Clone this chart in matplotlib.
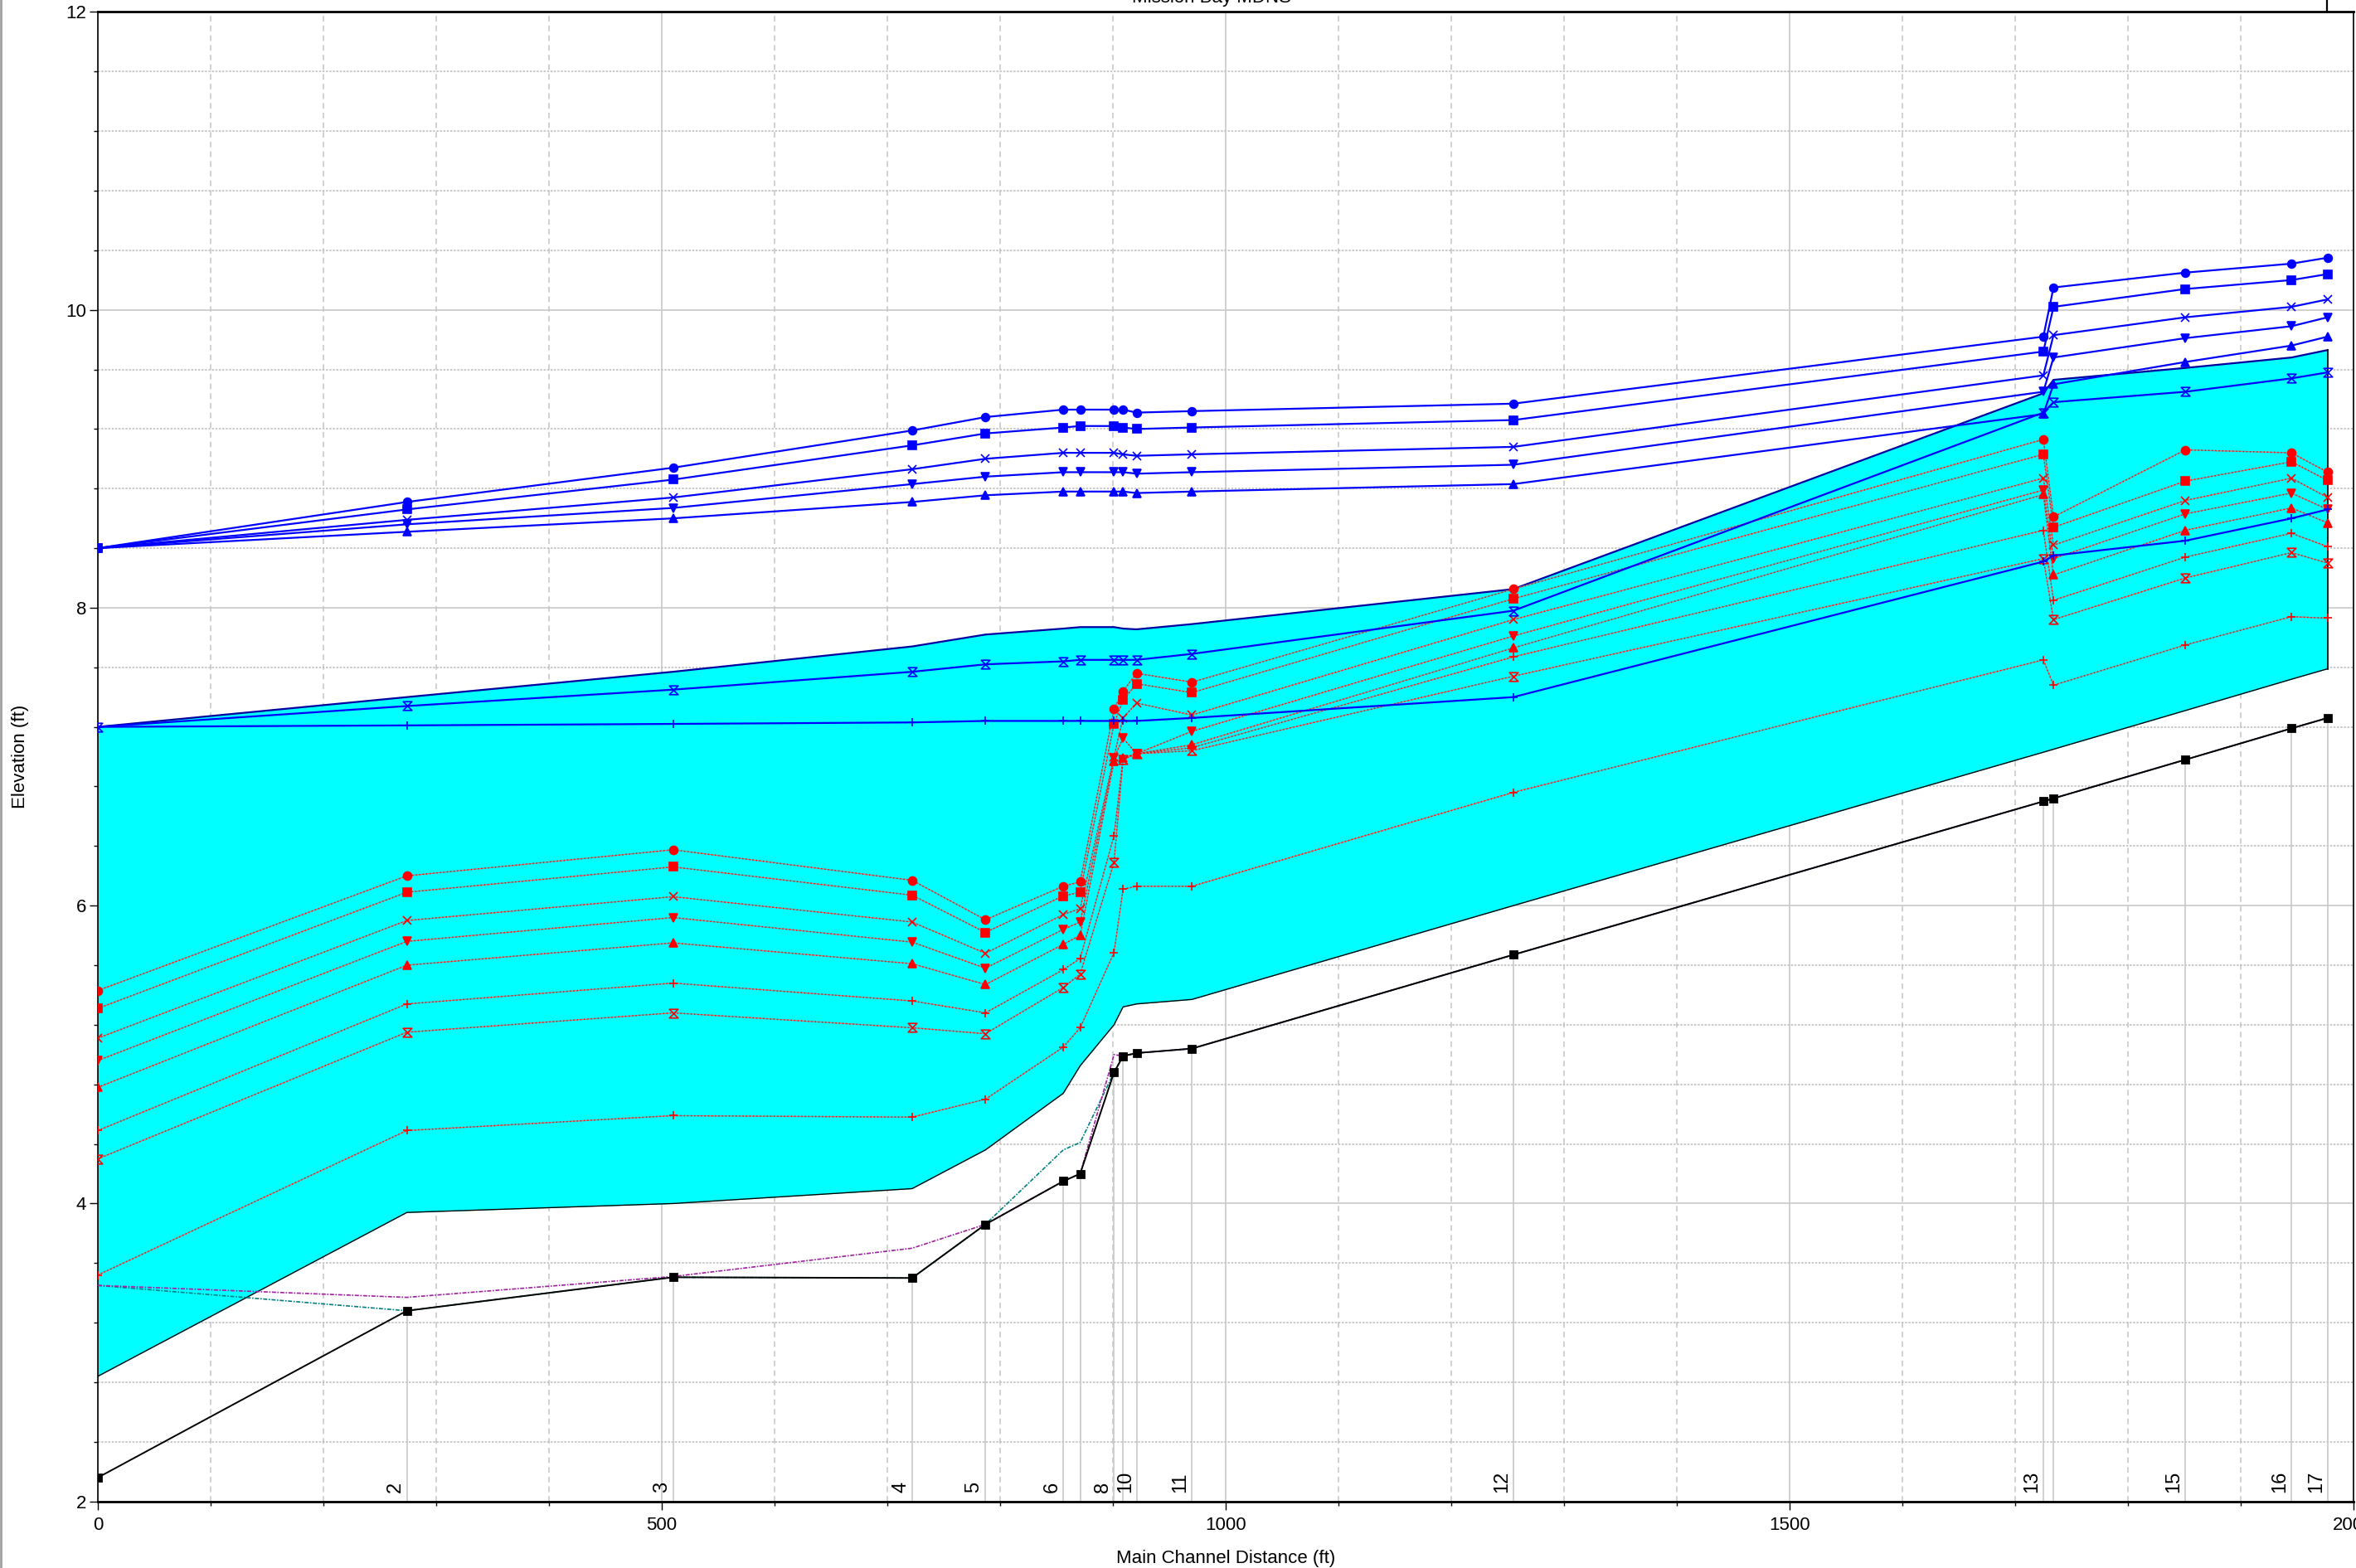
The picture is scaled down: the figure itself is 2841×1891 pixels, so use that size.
import matplotlib
matplotlib.use('Agg')
import matplotlib.pyplot as plt
from matplotlib.path import Path
from matplotlib.lines import Line2D
from matplotlib.ticker import MultipleLocator

plt.rcParams['font.family'] = ['Liberation Sans', 'DejaVu Sans']

# river stations (main channel distance, ft)
dist = [0, 274, 510, 722, 787, 856, 871, 901, 909, 921, 970, 1255, 1725, 1734, 1851, 1945, 1977]
stn_labels = ['', '2', '3', '4', '5', '6', '', '8', '', '10', '11', '12', '13', '', '15', '16', '17']

# ground / min channel elevation
ground = [2.16, 3.28, 3.505, 3.50, 3.86, 4.15, 4.20, 4.88, 4.99, 5.01, 5.04, 5.67, 6.70, 6.72, 6.98, 7.19, 7.26]
crit_purple = [3.45, 3.37, 3.51, 3.70, 3.86, 4.15, 4.20, 5.00, 4.99, 5.01, 5.04, 5.67, 6.70, 6.72, 6.98, 7.19, 7.26]
crit_teal = [3.45, 3.28, 3.505, 3.50, 3.86, 4.36, 4.41, 4.88, 4.99, 5.01, 5.04, 5.67, 6.70, 6.72, 6.98, 7.19, 7.26]

# cyan band
band_top = [7.20, 7.40, 7.57, 7.74, 7.82, 7.86, 7.87, 7.87, 7.86, 7.855, 7.89, 8.125, 9.44, 9.53, 9.61, 9.68, 9.73]
band_bot = [2.84, 3.94, 4.00, 4.10, 4.36, 4.74, 4.925, 5.20, 5.32, 5.34, 5.37, 6.00, 7.03, 7.05, 7.31, 7.52, 7.59]

# blue water surface profiles
blue_circle = [8.40, 8.71, 8.94, 9.19, 9.28, 9.33, 9.33, 9.33, 9.33, 9.31, 9.32, 9.37, 9.82, 10.15, 10.25, 10.31, 10.35]
blue_square = [8.40, 8.66, 8.86, 9.09, 9.17, 9.21, 9.22, 9.22, 9.21, 9.20, 9.21, 9.26, 9.72, 10.02, 10.14, 10.20, 10.24]
blue_x = [8.40, 8.59, 8.74, 8.93, 9.00, 9.04, 9.04, 9.04, 9.03, 9.02, 9.03, 9.08, 9.56, 9.83, 9.95, 10.02, 10.07]
blue_tdown = [8.40, 8.56, 8.67, 8.83, 8.88, 8.91, 8.91, 8.91, 8.91, 8.90, 8.91, 8.96, 9.45, 9.68, 9.81, 9.89, 9.95]
blue_tup = [8.40, 8.51, 8.60, 8.71, 8.755, 8.78, 8.78, 8.78, 8.78, 8.77, 8.78, 8.83, 9.30, 9.50, 9.65, 9.76, 9.82]
blue_hour = [7.20, 7.34, 7.45, 7.57, 7.62, 7.64, 7.65, 7.65, 7.65, 7.65, 7.69, 7.98, 9.31, 9.38, 9.45, 9.54, 9.58]
blue_plus = [7.20, 7.21, 7.22, 7.23, 7.24, 7.24, 7.24, 7.24, 7.24, 7.24, 7.26, 7.40, 8.31, 8.35, 8.45, 8.60, 8.66]

# red water surface profiles
red_circle = [5.43, 6.20, 6.375, 6.17, 5.905, 6.13, 6.16, 7.32, 7.44, 7.56, 7.50, 8.125, 9.13, 8.61, 9.06, 9.04, 8.91]
red_square = [5.31, 6.09, 6.26, 6.07, 5.82, 6.065, 6.09, 7.22, 7.38, 7.49, 7.43, 8.06, 9.03, 8.54, 8.85, 8.98, 8.855]
red_x = [5.11, 5.90, 6.06, 5.89, 5.68, 5.94, 5.98, 7.00, 7.26, 7.36, 7.28, 7.92, 8.87, 8.42, 8.72, 8.87, 8.74]
red_tdown = [4.96, 5.76, 5.92, 5.755, 5.58, 5.84, 5.89, 6.99, 7.125, 7.02, 7.17, 7.81, 8.79, 8.33, 8.63, 8.77, 8.66]
red_tup = [4.78, 5.60, 5.75, 5.61, 5.47, 5.74, 5.80, 6.97, 6.99, 7.02, 7.08, 7.73, 8.76, 8.22, 8.52, 8.67, 8.57]
red_plus = [4.49, 5.34, 5.48, 5.36, 5.28, 5.57, 5.645, 6.47, 6.99, 7.02, 7.06, 7.67, 8.52, 8.05, 8.34, 8.50, 8.41]
red_hour = [4.30, 5.15, 5.28, 5.18, 5.14, 5.45, 5.54, 6.29, 6.98, 7.02, 7.04, 7.54, 8.33, 7.92, 8.20, 8.37, 8.30]
red_plus2 = [3.52, 4.49, 4.59, 4.58, 4.70, 5.05, 5.18, 5.685, 6.11, 6.13, 6.13, 6.76, 7.65, 7.48, 7.75, 7.94, 7.93]

# hourglass marker
hourglass = Path([(-1, 1), (1, 1), (-1, -1), (1, -1), (-1, 1)],
                 [Path.MOVETO, Path.LINETO, Path.LINETO, Path.LINETO, Path.CLOSEPOLY])

fig = plt.figure(figsize=(14.205, 9.455), dpi=200)
ax = fig.add_axes([0.041535, 0.042464, 0.957409, 0.949921])

# grid
ax.set_axisbelow(True)
ax.xaxis.set_major_locator(MultipleLocator(500))
ax.xaxis.set_minor_locator(MultipleLocator(100))
ax.yaxis.set_major_locator(MultipleLocator(2))
ax.yaxis.set_minor_locator(MultipleLocator(0.4))
ax.grid(which='major', color='#c8c8c8', lw=0.6, ls='-')
ax.grid(which='minor', axis='x', color='#c8c8c8', lw=0.6, ls=(0, (4, 3)))
ax.grid(which='minor', axis='y', color='#c0c0c0', lw=0.6, ls=(0, (1.5, 1)))

# station lines
ax.vlines(dist, 2, ground, colors='#c8c8c8', lw=0.6, zorder=0.8)

# cyan band
ax.fill_between(dist, band_bot, band_top, color='#00ffff', lw=0, zorder=1)
ax.plot(dist, band_bot, color='black', lw=0.5, zorder=1.2)
ax.plot(dist, band_top, color='#0000a0', lw=0.8, zorder=1.2)
ax.plot([dist[-1], dist[-1]], [band_bot[-1], band_top[-1]], color='black', lw=0.6, zorder=1.2)

# ground and critical lines
ax.plot(dist, crit_teal, color='#008080', lw=0.6, ls=(0, (3, 1, 1, 1)), zorder=3)
ax.plot(dist, crit_purple, color='#a020a0', lw=0.6, ls=(0, (3, 1, 1, 1)), zorder=3)
ax.plot(dist, ground, color='black', lw=0.7, marker='s', ms=3, zorder=3.5)

# red profiles
red_series = [(red_circle, 'o'), (red_square, 's'), (red_x, 'x'), (red_tdown, 'v'),
              (red_tup, '^'), (red_plus, '+'), (red_hour, hourglass), (red_plus2, '+')]
for vals, mk in red_series:
    ax.plot(dist, vals, color='#909090', lw=0.5, zorder=4)
    filled = mk in ('o', 's', 'v', '^')
    ax.plot(dist, vals, color='red', lw=0.5, ls=(0, (1, 2)), marker=mk,
            ms=3.6 if filled else 3.8, mfc='red' if filled else 'none', mec='red',
            mew=0.6, zorder=4.2)

# blue profiles
blue_series = [(blue_circle, 'o'), (blue_square, 's'), (blue_x, 'x'), (blue_tdown, 'v'),
               (blue_tup, '^'), (blue_hour, hourglass), (blue_plus, '+')]
for vals, mk in blue_series:
    filled = mk in ('o', 's', 'v', '^')
    ax.plot(dist, vals, color='blue', lw=0.8, marker=mk, ms=3.5 if filled else 3.8,
            mfc='blue' if filled else 'none', mec='blue', mew=0.6, zorder=5)

# station labels
for d, s in zip(dist, stn_labels):
    if s:
        ax.text(d - 2, 2.06, s, rotation=90, ha='right', va='bottom', fontsize=8.5, zorder=6)

ax.set_xlim(0, 2000)
ax.set_ylim(2, 12)
ax.tick_params(which='major', length=3.5, width=0.5, labelsize=8, pad=1.5)
ax.tick_params(which='minor', length=1.8, width=0.5)
ax.tick_params(axis='x', which='major', pad=3)
for side in ['top', 'bottom']:
    ax.spines[side].set_linewidth(1.0)
for side in ['left', 'right']:
    ax.spines[side].set_linewidth(0.6)

ax.set_xlabel('Main Channel Distance (ft)', fontsize=8, labelpad=7)
ax.set_ylabel('Elevation (ft)', fontsize=8, labelpad=16)

fig.text(1461 / 2841, 1 - 3 / 1891, 'Mission Bay MDNS', ha='center', va='baseline', fontsize=8)
fig.add_artist(Line2D([0.0005, 0.0005], [0, 1], color='#a0a0a0', lw=1))
fig.add_artist(Line2D([2806 / 2841] * 2, [0.9924, 1], color='black', lw=0.8))

fig.savefig('out.png', dpi=200)
